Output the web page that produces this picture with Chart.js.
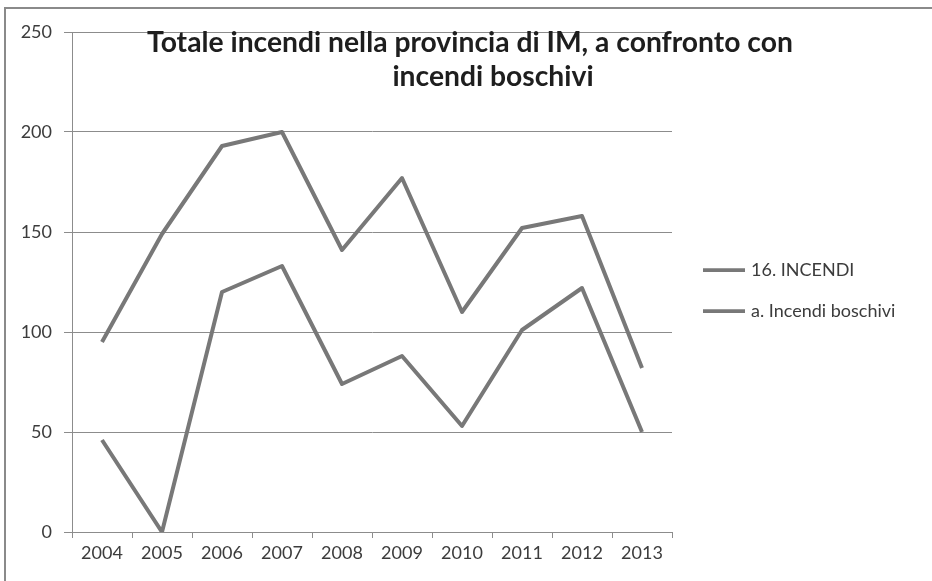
<!DOCTYPE html>
<html><head><meta charset="utf-8">
<script src="https://cdn.jsdelivr.net/npm/chart.js@4/dist/chart.umd.min.js"></script>
<style>
html,body{margin:0;padding:0;background:#fff;}
#wrap{position:relative;width:932px;height:581px;overflow:hidden;background:#fff;}
#frame{position:absolute;left:4px;top:7px;width:1000px;height:700px;border-left:2px solid #8a8a8a;border-top:2px solid #8a8a8a;}
canvas{position:absolute;left:0;top:0;}
</style></head><body>
<div id="wrap"><div id="frame"></div><canvas id="c" width="932" height="581"></canvas></div>
<script>
const years = ['2004','2005','2006','2007','2008','2009','2010','2011','2012','2013'];
const totalIncendi = [95,149,193,200,141,177,110,152,158,82];
const incendiBoschivi = [46,0,120,133,74,88,53,101,122,50];
const seriesLabels = ['16. INCENDI','a. Incendi boschivi'];
const titleLines = ['Totale incendi nella provincia di IM, a confronto con','incendi boschivi'];
const yMin = 0, yMax = 250, yStep = 50;

const lineColor = '#787878';
const textColor = '#3c3c3c';
const gridColor = '#8c8c8c';
const fontFamily = 'Lato, "Open Sans", sans-serif';

const overlay = {
  id: 'overlay',
  afterDraw(chart) {
    const ctx = chart.ctx, ca = chart.chartArea;
    ctx.save();
    // Title
    let size = 27;
    ctx.font = `bold ${size}px ${fontFamily}`;
    const w = ctx.measureText(titleLines[0]).width;
    size = size * 646 / w;
    ctx.font = `bold ${size}px ${fontFamily}`;
    ctx.fillStyle = '#1e1e1e';
    ctx.textAlign = 'center';
    ctx.textBaseline = 'alphabetic';
    ctx.fillText(titleLines[0], ca.left + 398, ca.top + 20);
    ctx.fillText(titleLines[1], ca.left + 421, ca.top + 54);
    // Legend
    ctx.font = `18px ${fontFamily}`;
    ctx.textAlign = 'left';
    ctx.textBaseline = 'middle';
    const cy = chart.height / 2;
    chart.data.datasets.forEach((ds, i) => {
      const y = cy - 20.5 + i * 41;
      ctx.strokeStyle = ds.borderColor;
      ctx.lineWidth = 3.75;
      ctx.beginPath();
      ctx.moveTo(ca.right + 31, y);
      ctx.lineTo(ca.right + 73, y);
      ctx.stroke();
      ctx.fillStyle = textColor;
      ctx.fillText(ds.label, ca.right + 79, y);
    });
    ctx.restore();
  }
};

new Chart(document.getElementById('c'), {
  type: 'line',
  data: {
    labels: years,
    datasets: [
      { label: seriesLabels[0], data: totalIncendi, borderColor: lineColor, borderWidth: 4, pointRadius: 0, tension: 0, fill: false, borderJoinStyle: 'round' },
      { label: seriesLabels[1], data: incendiBoschivi, borderColor: lineColor, borderWidth: 4, pointRadius: 0, tension: 0, fill: false, borderJoinStyle: 'round' }
    ]
  },
  options: {
    responsive: false,
    animation: false,
    devicePixelRatio: 1,
    layout: { padding: { top: 32, right: 260, left: 0, bottom: 0 } },
    plugins: { legend: { display: false }, title: { display: false }, tooltip: { enabled: false } },
    scales: {
      x: {
        type: 'category',
        offset: true,
        grid: { offset: true, drawOnChartArea: false, drawTicks: true, tickLength: 6, color: gridColor },
        border: { display: true, color: gridColor },
        ticks: { color: textColor, font: { family: fontFamily, size: 18 }, padding: 4, maxRotation: 0, autoSkip: false },
        afterFit(s) { s.height = 49; }
      },
      y: {
        min: yMin, max: yMax,
        grid: { color: gridColor, tickLength: 8, drawTicks: true },
        border: { display: true, color: gridColor },
        ticks: { stepSize: yStep, color: textColor, font: { family: fontFamily, size: 18 }, padding: 12 },
        afterFit(s) { s.width = 72; }
      }
    }
  },
  plugins: [overlay]
});
</script>
</body></html>
